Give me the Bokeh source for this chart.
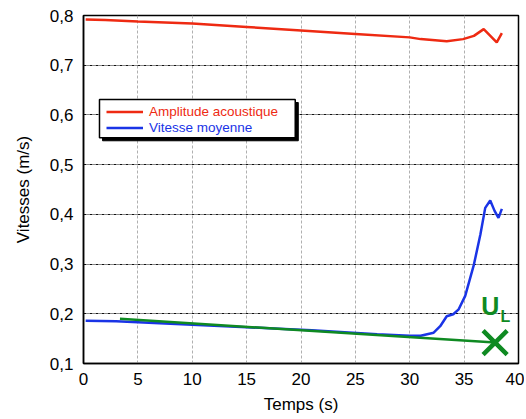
from bokeh.plotting import figure
from bokeh.models import (Range1d, FixedTicker, CustomJSTickFormatter, BoxAnnotation,
                          Label, Legend, LegendItem)
from bokeh.embed import file_html
from bokeh.resources import INLINE

# ---- data ----
t_amp = [0.2, 2, 5, 10, 15, 20, 25, 30, 31, 33.4, 34.9, 35.9, 36.8, 38.0, 38.47]
v_amp = [0.792, 0.791, 0.788, 0.784, 0.777, 0.770, 0.763, 0.756, 0.7525, 0.748,
         0.7525, 0.759, 0.7726, 0.746, 0.7645]

t_vit = [0.2, 3, 6, 9, 12, 15, 18, 21, 24, 27, 30, 31, 32.2, 32.8, 33.4, 34.0,
         34.5, 35.1, 35.9, 36.5, 36.94, 37.4, 37.8, 38.16, 38.47]
v_vit = [0.186, 0.185, 0.182, 0.179, 0.176, 0.173, 0.170, 0.167, 0.163, 0.159,
         0.156, 0.156, 0.162, 0.175, 0.195, 0.199, 0.209, 0.236, 0.299, 0.360,
         0.413, 0.428, 0.407, 0.393, 0.411]

t_fit = [3.35, 37.85]
v_fit = [0.190, 0.142]

t_ul = [37.85]
v_ul = [0.142]

x_ticks = [0, 5, 10, 15, 20, 25, 30, 35, 40]
y_ticks = [0.1, 0.2, 0.3, 0.4, 0.5, 0.6, 0.7, 0.8]

legend_labels = ["Amplitude acoustique", "Vitesse moyenne"]

RED = "#ee2a12"
BLUE = "#1a34e6"
GREEN = "#0f8a22"
FONT = "Liberation Sans"

p = figure(frame_width=435, frame_height=348, output_backend="svg", toolbar_location=None,
           x_range=Range1d(0, 40), y_range=Range1d(0.1, 0.8),
           min_border_left=83, min_border_top=15, min_border_right=6, min_border_bottom=52)
p.background_fill_color = "white"
p.border_fill_color = "white"
p.outline_line_color = "black"
p.outline_line_width = 1.5

for ax in (p.xaxis[0], p.yaxis[0]):
    ax.axis_line_color = "black"
    ax.axis_line_width = 1.5
    ax.major_tick_line_color = None
    ax.minor_tick_line_color = None
    ax.major_tick_out = 0
    ax.major_tick_in = 0
    ax.major_label_text_font = FONT
    ax.major_label_text_font_size = "17px"
    ax.major_label_text_color = "black"
    ax.axis_label_text_font = FONT
    ax.axis_label_text_font_size = "17px"
    ax.axis_label_text_font_style = "normal"
    ax.axis_label_text_color = "black"

p.xaxis.ticker = FixedTicker(ticks=x_ticks)
p.yaxis.ticker = FixedTicker(ticks=y_ticks)
p.yaxis.formatter = CustomJSTickFormatter(code="return tick.toFixed(1).replace('.', ',');")
p.xaxis.axis_label = "Temps (s)"
p.yaxis.axis_label = "Vitesses (m/s)"
p.xaxis.major_label_standoff = 9
p.yaxis.major_label_standoff = 10
p.xaxis.axis_label_standoff = 7
p.yaxis.axis_label_standoff = 14

p.ygrid.grid_line_color = "#111111"
p.ygrid.grid_line_dash = "3 1 1 1"
p.ygrid.grid_line_width = 1
p.xgrid.grid_line_color = "#b0b0b0"
p.xgrid.grid_line_dash = "3 2"
p.xgrid.grid_line_width = 1

r_amp = p.line(t_amp, v_amp, line_color=RED, line_width=2.5)
r_vit = p.line(t_vit, v_vit, line_color=BLUE, line_width=2.5)
p.line(t_fit, v_fit, line_color=GREEN, line_width=2.5)
p.scatter(t_ul, v_ul, marker="x", size=34, line_color=GREEN, line_width=4.5)

p.add_layout(Label(x=37.4, y=0.2154, text="U", text_color=GREEN, text_font=FONT,
                   text_font_size="25px", text_font_style="bold",
                   text_align="center", text_baseline="middle"))
p.add_layout(Label(x=38.8, y=0.1953, text="L", text_color=GREEN, text_font=FONT,
                   text_font_size="16px", text_font_style="bold",
                   text_align="center", text_baseline="middle"))

# legend box with shadow
p.add_layout(BoxAnnotation(left=1.75, right=19.75, bottom=0.548, top=0.625,
                           fill_color="black", fill_alpha=1, line_color="black",
                           line_alpha=1, level="annotation"))
p.add_layout(BoxAnnotation(left=1.47, right=19.47, bottom=0.5543, top=0.6309,
                           fill_color="white", fill_alpha=1, line_color="black",
                           line_width=1.5, line_alpha=1, level="annotation"))

for lab, rend, col, yloc in [(legend_labels[0], r_amp, RED, 244),
                              (legend_labels[1], r_vit, BLUE, 228)]:
    lg = Legend(items=[LegendItem(label=lab, renderers=[rend])],
                location=(23, yloc), padding=0, margin=0, spacing=0,
                glyph_width=37, glyph_height=13, label_height=13,
                label_standoff=6, label_text_font=FONT, label_text_font_size="13.5px",
                label_text_color=col, background_fill_alpha=0,
                border_line_color=None)
    p.add_layout(lg)

open("out.html", "w").write(file_html(p, INLINE))
